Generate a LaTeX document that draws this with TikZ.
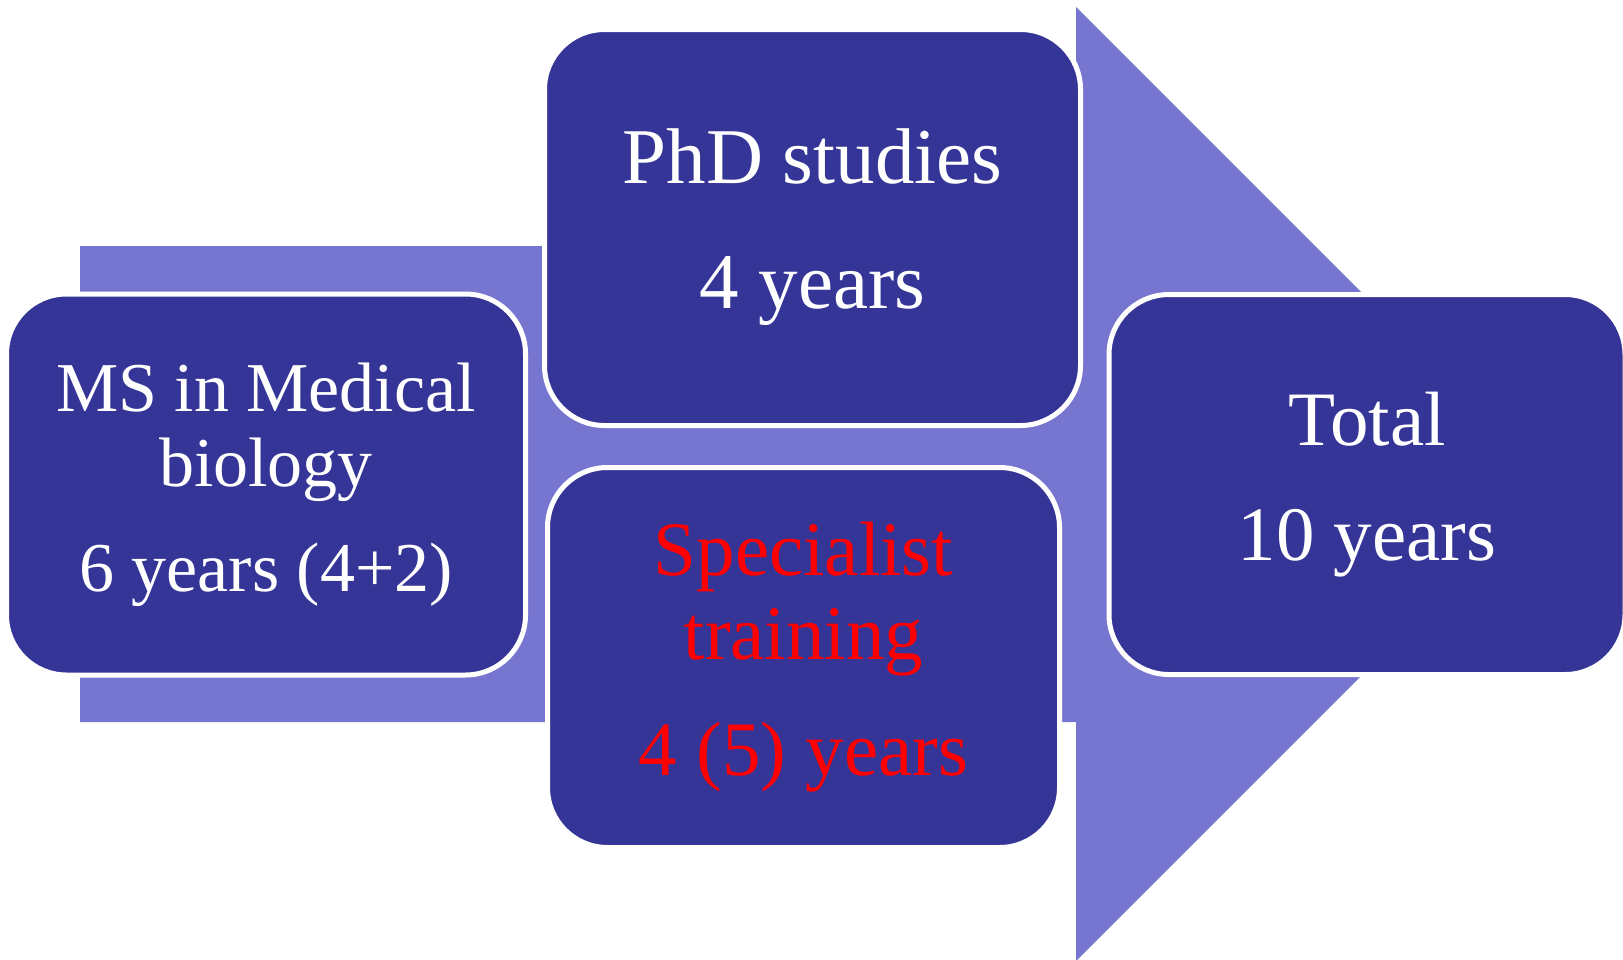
\documentclass[tikz,border=0pt]{standalone}
\usepackage{fontspec}
\setmainfont{Liberation Serif}
\definecolor{boxblue}{HTML}{353598}
\definecolor{arrowblue}{HTML}{7676D0}

\begin{document}
\begin{tikzpicture}[x=1pt,y=-1pt,
    stage/.style={draw=white,line width=5pt,fill=boxblue,rounded corners=60pt,
        inner sep=0pt,align=center,text=white}]
    \useasboundingbox (0,0) rectangle (1623,959);
    \fill[arrowblue] (80,246) -- (1076,246) -- (1076,7) -- (1553,484)
        -- (1076,961) -- (1076,722) -- (80,722) -- cycle;
    \node[stage,minimum width=519pt,minimum height=381pt,font=\fontsize{70}{75}\selectfont]
        (ms) at (266,484.5) {MS in Medical\\biology\\[30pt]6 years (4+2)};
    \node[stage,minimum width=536pt,minimum height=396pt,font=\fontsize{79}{84}\selectfont]
        (phd) at (812.5,227.5) {PhD studies\\[41pt]4 years};
    \node[stage,minimum width=512pt,minimum height=380pt,font=\fontsize{77}{84}\selectfont,text=red]
        (spec) at (803.5,657.5) {Specialist\\training\\[32pt]4 (5) years};
    \node[stage,minimum width=516pt,minimum height=380pt,font=\fontsize{77}{84}\selectfont]
        (total) at (1367,484.5) {Total\\[31pt]10 years};
\end{tikzpicture}
\end{document}
